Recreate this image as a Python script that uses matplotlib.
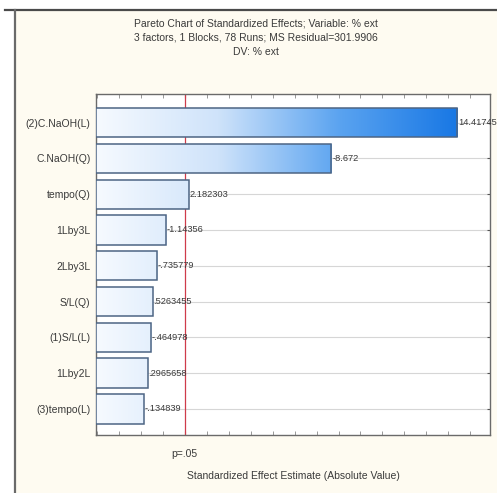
import numpy as np
import matplotlib
matplotlib.use("Agg")
import matplotlib.pyplot as plt
from matplotlib.colors import LinearSegmentedColormap
from matplotlib.patches import Rectangle
from matplotlib.lines import Line2D

# data
effects = ["(2)C.NaOH(L)", "C.NaOH(Q)", "tempo(Q)", "1Lby3L", "2Lby3L",
           "S/L(Q)", "(1)S/L(L)", "1Lby2L", "(3)tempo(L)"]
estimates = [14.41745, -8.672, 2.182303, -1.14356, -0.735779,
             0.5263455, -0.464978, 0.2965658, -0.134839]
p_crit = 1.99
title_lines = ["Pareto Chart of Standardized Effects; Variable: % ext",
               "3 factors, 1 Blocks, 78 Runs; MS Residual=301.9906",
               "DV: % ext"]

FONT = ["Liberation Sans Narrow", "Liberation Sans", "DejaVu Sans"]
INK = "#3a3a3a"
CREAM = "#fefbf1"
plt.rcParams["font.family"] = FONT

XMIN, XMAX = -2.05, 15.9

fig = plt.figure(figsize=(4.97, 4.93), dpi=100, facecolor="white")

# cream panel with the window border on top/left
fig.patches.append(Rectangle((15 / 497, 0), 1, 1 - 10 / 493, transform=fig.transFigure,
                             facecolor=CREAM, edgecolor="none", zorder=-5))
fig.add_artist(Line2D([5 / 497, 1], [1 - 10 / 493] * 2, transform=fig.transFigure,
                      color="#4a4a4a", lw=1.6, zorder=-4))
fig.add_artist(Line2D([15 / 497] * 2, [0, 1 - 10 / 493], transform=fig.transFigure,
                      color="#6a6a6a", lw=1.6, zorder=-4))

ax = fig.add_axes([96 / 497, 1 - 435 / 493, (490 - 96) / 497, (435 - 94) / 493])
ax.set_facecolor("white")

y = np.arange(len(effects))
mags = np.abs(estimates)

# horizontal grid lines behind the bars
for yy in y:
    ax.axhline(yy, color="#d6d6d6", lw=0.8, zorder=1)

# bars with a left-to-right blue gradient
cmap = LinearSegmentedColormap.from_list("blu", ["#f6faff", "#cfe3fa", "#5aa3f0", "#1676e4"])
grad = np.linspace(0, 1, 256).reshape(1, -1)
for yy, m in zip(y, mags):
    bar = Rectangle((XMIN, yy - 0.41), m - XMIN, 0.82, facecolor="none",
                    edgecolor="#4d6584", lw=1.1, zorder=4)
    ax.add_patch(bar)
    im = ax.imshow(grad, cmap=cmap, aspect="auto", extent=[XMIN, 14.6, yy - 0.41, yy + 0.41],
                   zorder=3, interpolation="bilinear")
    im.set_clip_path(bar)

for yy, m, v in zip(y, mags, estimates):
    lab = f"{v:.7g}".replace("0.", ".")
    ax.text(m + 0.04, yy, lab, va="center", ha="left", fontsize=6.7, color=INK, zorder=5,
            clip_on=False)

ax.axvline(p_crit, color="#cf3b4a", lw=0.9, zorder=2)

ax.set_xlim(XMIN, XMAX)
ax.set_ylim(len(effects) - 0.27, -0.8)
ax.set_yticks(y)
ax.set_yticklabels(effects, fontsize=7.5, color=INK)
ax.set_xticks([p_crit])
ax.set_xticklabels(["p=.05"], fontsize=7.5, color=INK)
ax.set_xticks(np.arange(-2, 16, 1), minor=True)
ax.tick_params(axis="x", which="major", direction="in", length=3, pad=10, top=True,
               color="#777777")
ax.tick_params(axis="x", which="minor", direction="in", length=3, top=True, color="#888888")
ax.tick_params(axis="y", direction="in", length=2, right=True, color="#555555", pad=4)
for sp in ax.spines.values():
    sp.set_edgecolor("#6a6a6a")
    sp.set_linewidth(1.0)

ax.set_xlabel("Standardized Effect Estimate (Absolute Value)", fontsize=7.5, color=INK,
              labelpad=9)

for i, line in enumerate(title_lines):
    fig.text(256 / 497, 1 - (23 + 14.5 * i) / 493, line, ha="center", va="center",
             fontsize=7.5, color=INK)

fig.savefig("out.png", dpi=100, facecolor=fig.get_facecolor())
